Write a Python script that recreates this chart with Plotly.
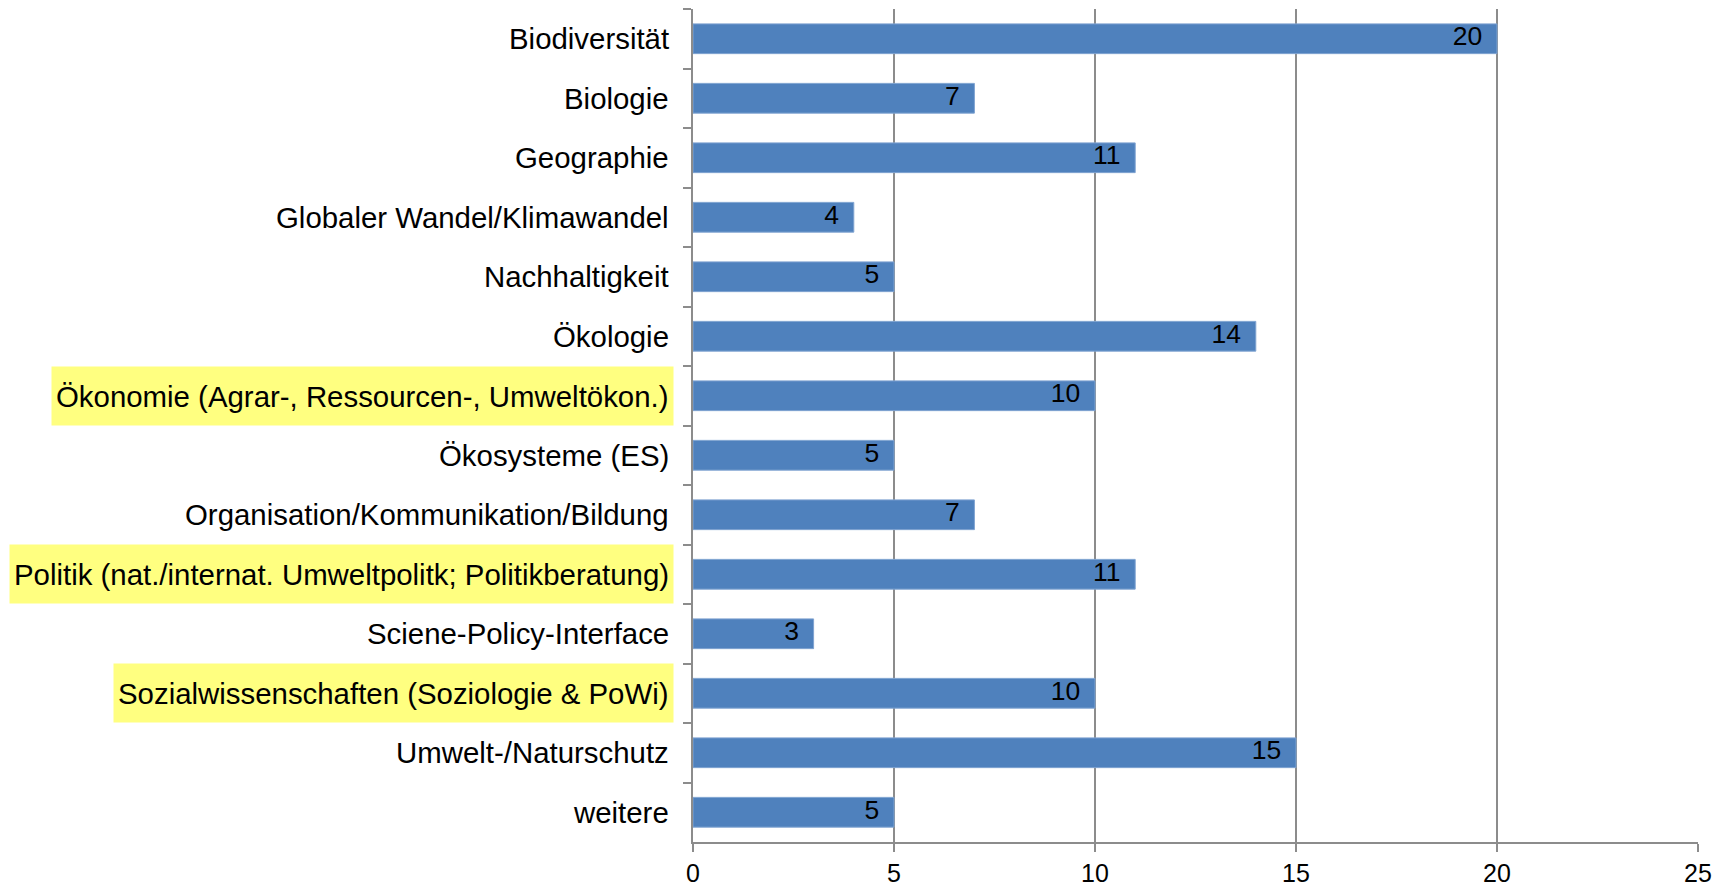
import plotly.graph_objects as go

categories = [
    "Biodiversität",
    "Biologie",
    "Geographie",
    "Globaler Wandel/Klimawandel",
    "Nachhaltigkeit",
    "Ökologie",
    "Ökonomie (Agrar-, Ressourcen-, Umweltökon.)",
    "Ökosysteme (ES)",
    "Organisation/Kommunikation/Bildung",
    "Politik (nat./internat. Umweltpolitk; Politikberatung)",
    "Sciene-Policy-Interface",
    "Sozialwissenschaften (Soziologie & PoWi)",
    "Umwelt-/Naturschutz",
    "weitere",
]
values = [20, 7, 11, 4, 5, 14, 10, 5, 7, 11, 3, 10, 15, 5]
highlighted = [
    "Ökonomie (Agrar-, Ressourcen-, Umweltökon.)",
    "Politik (nat./internat. Umweltpolitk; Politikberatung)",
    "Sozialwissenschaften (Soziologie & PoWi)",
]
x_ticks = [0, 5, 10, 15, 20, 25]

FONT = "Liberation Sans, Arial, sans-serif"
GRID = "#8c8c8c"

fig = go.Figure()
fig.add_trace(go.Bar(
    y=categories,
    x=values,
    orientation="h",
    marker=dict(color="#4F81BD", line=dict(color="#7FA3D1", width=1)),
    width=0.5,
    hoverinfo="x+y",
))
fig.add_trace(go.Scatter(
    y=categories,
    x=values,
    mode="text",
    text=[f"{v}\u00a0\u00a0" for v in values],
    textposition="middle left",
    textfont=dict(family=FONT, size=26.5, color="black"),
    hoverinfo="skip",
))

for c in categories:
    fig.add_annotation(
        x=0, xref="x", xshift=-19,
        y=c, yref="y",
        text=c, showarrow=False,
        xanchor="right", yanchor="middle",
        font=dict(family=FONT, size=29.4, color="black"),
        bgcolor="#FFFF80" if c in highlighted else "rgba(0,0,0,0)",
        height=50 if c in highlighted else None,
        borderpad=4,
        valign="middle",
    )

fig.update_layout(
    width=1727, height=887,
    margin=dict(l=685, r=37, t=1, b=53),
    paper_bgcolor="white", plot_bgcolor="white",
    showlegend=False,
    font=dict(family=FONT, size=26, color="black"),
)
fig.update_xaxes(
    range=[0, 25],
    tickvals=x_ticks,
    showgrid=True, gridcolor=GRID, gridwidth=1.5,
    showline=True, linecolor=GRID, linewidth=2,
    ticks="outside", ticklen=8, tickcolor=GRID, tickwidth=2,
    tickfont=dict(family=FONT, size=25, color="black"),
    zeroline=False,
)
fig.update_yaxes(
    range=[len(categories) - 0.5, -0.5],
    autorange=False,
    showticklabels=False,
    showline=True, linecolor=GRID, linewidth=2,
    ticks="outside", tickson="boundaries", ticklen=8, tickcolor=GRID, tickwidth=2,
    showgrid=False,
)

fig.write_html("out.html")
